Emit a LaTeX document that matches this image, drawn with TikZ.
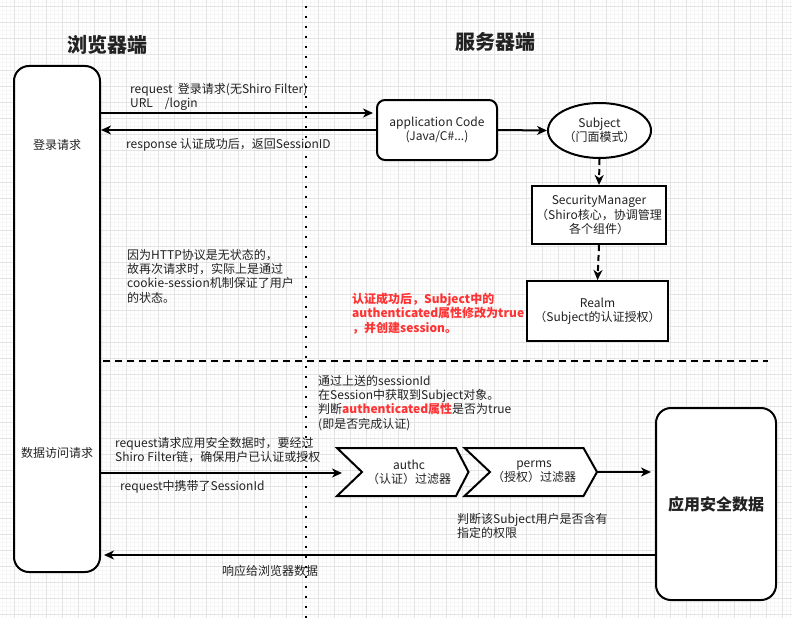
\documentclass[tikz,border=0pt]{standalone}
\usepackage{fontspec}
\setmainfont{Noto Sans CJK SC}
\usetikzlibrary{arrows.meta,shapes.geometric}
\definecolor{txt}{HTML}{222222}
\definecolor{redtxt}{HTML}{FF3333}
\definecolor{gmin}{HTML}{F6F6F6}
\definecolor{gmaj}{HTML}{E3E3E3}
\tikzset{
  lbl/.style={inner sep=0pt, text=txt, font=\fontsize{12}{14.3}\selectfont, align=left},
  redlbl/.style={lbl, text=redtxt, font=\bfseries\fontsize{12}{14.3}\selectfont},
  shapetxt/.style={text=txt, font=\fontsize{12}{14.3}\selectfont, align=center},
  thickbox/.style={draw, line width=2pt, fill=white, shapetxt},
  arr/.style={line width=2pt, -{Stealth[length=10pt,width=9pt,inset=3pt]}},
  dasharr/.style={arr, dash pattern=on 6pt off 4pt},
  title/.style={text=txt, font=\bfseries\fontsize{20}{24}\selectfont},
}
\begin{document}
\begin{tikzpicture}[x=1pt,y=-1pt]
\useasboundingbox (0,0) rectangle (792,618);
\fill[white] (0,0) rectangle (792,618);
% grid
\foreach \i in {2.7,6.7,...,792} \draw[gmin, line width=0.8pt] (\i,0) -- (\i,618);
\foreach \j in {2,6,...,618} \draw[gmin, line width=0.8pt] (0,\j) -- (792,\j);
\foreach \i in {14.7,30.7,...,792} \draw[gmaj, line width=0.8pt] (\i,0) -- (\i,618);
\foreach \j in {6,22,...,618} \draw[gmaj, line width=0.8pt] (0,\j) -- (792,\j);

% titles
\node[title] (tb) at (107,45) {浏览器端};
\node[title] (ts) at (495,42) {服务器端};

% separators
\coordinate (vt) at (306,6);
\coordinate (vb) at (306,618);
\draw[line width=2pt, dash pattern=on 2pt off 8pt] (vt) -- (vb);
\coordinate (hl) at (103,361);
\coordinate (hr) at (768,361);
\draw[line width=2pt, dash pattern=on 7pt off 5pt] (hl) -- (hr);

% browser box
\node[thickbox, rounded corners=15pt, minimum width=86pt, minimum height=506pt] (browser) at (57,319) {};
\node[shapetxt] (login) at (57,145) {登录请求};
\node[shapetxt] (dataq) at (57,453) {数据访问请求};

% server side
\node[thickbox, rounded corners=8pt, minimum width=120pt, minimum height=60pt] (app) at (437,130) {application Code\\(Java/C\#...)};
\node[thickbox, ellipse, inner sep=0pt, minimum width=103pt, minimum height=55pt] (subj) at (599.5,130.5) {Subject\\（门面模式）};
\node[thickbox, minimum width=134pt, minimum height=58pt] (sm) at (599,215) {SecurityManager\\（Shiro核心，协调管理\\各个组件）};
\node[thickbox, minimum width=141pt, minimum height=60pt] (realm) at (597.5,311) {Realm\\（Subject的认证授权）};
\node[thickbox, rounded corners=15pt, minimum width=120pt, minimum height=192pt, font=\bfseries\fontsize{16}{20}\selectfont] (datab) at (716,504) {应用安全数据};

% login arrows
\coordinate (reqy) at (0,113);
\coordinate (resy) at (0,130);
\draw[arr, shorten >=3pt] (browser.east |- reqy) -- (app.west |- reqy);
\draw[arr, shorten >=0pt] (app.west |- resy) -- (browser.east |- resy);
\node[lbl, anchor=north west] (reqlbl) at (130,83) {request\ \ 登录请求(无Shiro Filter)\\URL\quad /login};
\node[lbl, anchor=west] (reslbl) at (126,145) {response 认证成功后，返回SessionID};

\draw[arr] (app.east) -- (subj.west);
\draw[dasharr] (subj.south) -- (sm.north);
\draw[dasharr] (sm.south) -- (realm.north);

% notes
\node[lbl, anchor=north west] (httpnote) at (127,249) {因为HTTP协议是无状态的，\\故再次请求时，实际上是通过\\cookie-session机制保证了用户\\的状态。};
\node[redlbl, anchor=north west] (authnote) at (352,293) {认证成功后，Subject中的\\authenticated属性修改为true\\，并创建session。};
\node[lbl, anchor=north west] (sessnote) at (318,375) {通过上送的sessionId\\在Session中获取到Subject对象。\\判断\textcolor{redtxt}{\bfseries authenticated属性}是否为true\\(即是否完成认证)};

% filter chain
\coordinate (c1in) at (342,473);
\draw[line width=2pt, fill=white, line join=miter] (337,448) -- (456,448) -- (468.5,472) -- (456,496) -- (337,496) -- (362,472) -- cycle;
\node[shapetxt] (authc) at (409,472) {authc\\（认证）过滤器};
\draw[line width=2pt, fill=white, line join=miter] (464.5,448) -- (583.5,448) -- (597,472) -- (583.5,496) -- (464.5,496) -- (490,472) -- cycle;
\node[shapetxt] (perms) at (534,472) {perms\\（授权）过滤器};
\coordinate (c2tip) at (597,472);

\node[lbl, anchor=north west] (datareq) at (115,437) {request请求应用安全数据时，要经过\\Shiro Filter链，确保用户已认证或授权};
\draw[arr] (browser.east |- c1in) -- (c1in);
\node[lbl, anchor=west] (sidlbl) at (120,487) {request中携带了SessionId};
\draw[arr, shorten >=4pt] (c2tip) -- (datab.west |- c2tip);
\node[lbl, anchor=north west] (permnote) at (457,513) {判断该Subject用户是否含有\\指定的权限};

\coordinate (backy) at (0,555);
\draw[arr, shorten >=3pt] (datab.west |- backy) -- (browser.east |- backy);
\node[lbl, anchor=west] (backlbl) at (222,571) {响应给浏览器数据};
\end{tikzpicture}
\end{document}
